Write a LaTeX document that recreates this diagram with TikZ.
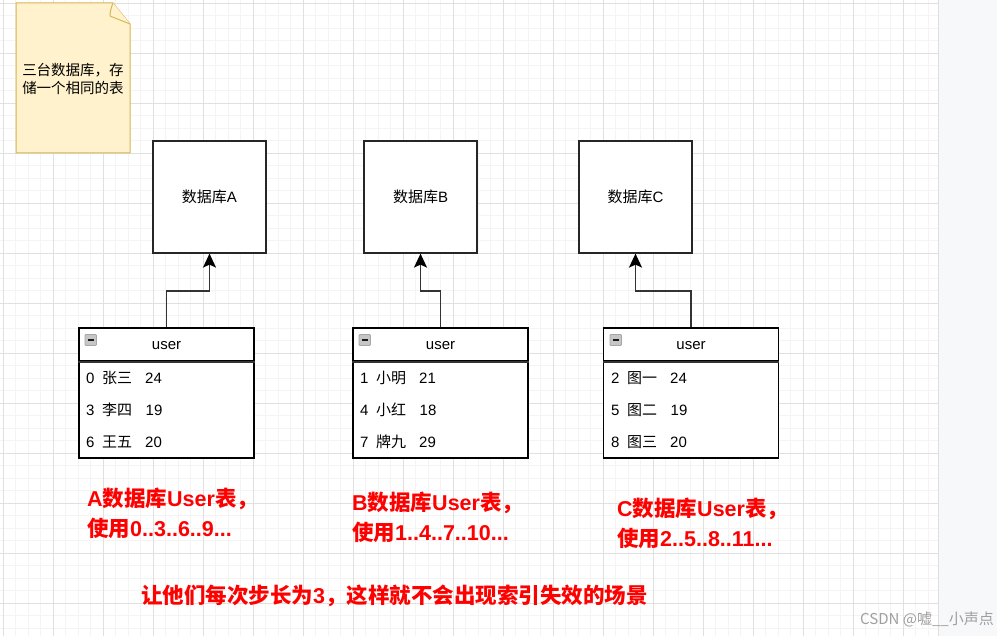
\documentclass[tikz,border=0pt]{standalone}
\usepackage{fontspec}
\setmainfont{Liberation Sans}
\newfontfamily\cjk{Noto Sans CJK SC}
\usetikzlibrary{arrows.meta}
\definecolor{gridminor}{HTML}{F4F4F4}
\definecolor{gridmajor}{HTML}{E0E0E0}
\definecolor{notefill}{HTML}{FFF2CC}
\definecolor{notedraw}{HTML}{D6B656}
\definecolor{outside}{HTML}{F7F8FA}
\definecolor{redtxt}{HTML}{FF0000}
\definecolor{linec}{HTML}{333333}
\newcommand\zh[1]{{\cjk #1}}
\tikzset{
  txt/.style={inner sep=0pt, text height=0.74em, text depth=0pt, font=\fontsize{15}{18}\selectfont},
  dbbox/.style={draw=black!85, line width=1.2pt, fill=white, minimum width=113pt, minimum height=112pt, inner sep=0pt, font=\fontsize{15}{18}\selectfont},
  hdr/.style={draw=black, line width=1.2pt, fill=white, minimum width=175pt, minimum height=33pt, inner sep=0pt},
  tbody/.style={draw=black, line width=1.2pt, fill=white, minimum width=175pt, minimum height=97pt, inner sep=0pt},
  conn/.style={draw=linec, line width=1.4pt, -{Stealth[length=14pt,width=13pt,inset=3pt,fill=black,color=black]}},
  redlbl/.style={inner sep=0pt, anchor=west, text=redtxt, align=left, font=\bfseries\fontsize{21.5}{30}\selectfont},
  minusicon/.style={draw=gray!70, fill=gray!45, line width=0.8pt, rounded corners=1pt},
}
\begin{document}
\begin{tikzpicture}[x=1pt,y=-1pt]
\useasboundingbox (0,0) rectangle (997,636);
\fill[outside] (0,0) rectangle (997,636);
\fill[white] (0,0) rectangle (938,636);
% grid
\foreach \x in {3,15.5,...,936} \draw[gridminor, line width=0.8pt] (\x,0) -- (\x,636);
\foreach \y in {3,15.5,...,636} \draw[gridminor, line width=0.8pt] (0,\y) -- (938,\y);
\foreach \x in {3,53,...,903} \draw[gridmajor, line width=0.8pt] (\x,0) -- (\x,636);
\foreach \y in {3,53,...,603} \draw[gridmajor, line width=0.8pt] (0,\y) -- (938,\y);
\draw[gray!25, line width=1pt] (938.5,0) -- (938.5,636);

% note
\draw[notedraw, fill=notefill, line width=1pt, line join=round] (16,3) -- (113,3) -- (130,24) -- (130,153) -- (16,153) -- cycle;
\draw[notedraw, fill=notefill, line width=1pt, line join=round] (113,3) .. controls (111,8) and (110,12) .. (110,16) -- (130,24);
\node[font=\cjk\fontsize{14.5}{18}\selectfont, align=center, inner sep=0pt] (notetext) at (73,79) {三台数据库，存\\储一个相同的表};

% database boxes
\node[dbbox] (dbA) at (209.5,197) {\zh{数据库}A};
\node[dbbox] (dbB) at (420.5,197) {\zh{数据库}B};
\node[dbbox] (dbC) at (635.5,197) {\zh{数据库}C};

% tables
\node[tbody] (bA) at (166.5,409.5) {};
\node[hdr] (tA) at (166.5,344.5) {};
\node[tbody] (bB) at (440.5,409.5) {};
\node[hdr] (tB) at (440.5,344.5) {};
\node[tbody] (bC) at (691,409.5) {};
\node[hdr] (tC) at (691,344.5) {};
\foreach \t in {tA,tB,tC} {
  \draw[black!80, line width=2pt] (\t.south west) -- (\t.south east);
  \node[txt] at ([yshift=-1.5pt]\t.center) {user};
}
% minus icons
\foreach \xx in {85,359,610} {
  \draw[minusicon] (\xx,334.5) rectangle ++(11.5,11);
  \draw[gray!20!black, line width=1.8pt] (\xx+2.5,340) -- (\xx+9,340);
}

% rows
\foreach \xx/\na/\nb/\nc/\ma/\mb/\mc/\aa/\ab/\ac in
  {79/0/3/6/张三/李四/王五/24/19/20,
   353/1/4/7/小明/小红/牌九/21/18/29,
   604/2/5/8/图一/图二/图三/24/19/20} {
  \node[txt, anchor=west] at (\xx+7,379.5) {\na};
  \node[txt, anchor=west] at (\xx+23,379.5) {\cjk \ma};
  \node[txt, anchor=west] at (\xx+66,379.5) {\aa};
  \node[txt, anchor=west] at (\xx+7,411.5) {\nb};
  \node[txt, anchor=west] at (\xx+23,411.5) {\cjk \mb};
  \node[txt, anchor=west] at (\xx+66.5,411.5) {\ab};
  \node[txt, anchor=west] at (\xx+7,443.5) {\nc};
  \node[txt, anchor=west] at (\xx+23,443.5) {\cjk \mc};
  \node[txt, anchor=west] at (\xx+66,443.5) {\ac};
}

% connectors
\coordinate (midy) at (0,291);
\draw[conn] (tA.north) -- (tA.north |- midy) -| (dbA.south);
\draw[conn] (tB.north) -- (tB.north |- midy) -| (dbB.south);
\draw[conn] (tC.north) -- (tC.north |- midy) -| (dbC.south);

% red labels
\node[redlbl] (lA) at (87,513) {A\zh{数据库}User\zh{表，}\\\zh{使用}0..3..6..9...};
\node[redlbl] (lB) at (352,517) {B\zh{数据库}User\zh{表，}\\\zh{使用}1..4..7..10...};
\node[redlbl] (lC) at (617,523) {C\zh{数据库}User\zh{表，}\\\zh{使用}2..5..8..11...};
\node[redlbl] (lD) at (141,596) {\zh{让他们每次步长为}3\zh{，这样就不会出现索引失效的场景}};

% watermark
\node[inner sep=0pt, anchor=east, text=gray!75, font=\cjk\fontsize{15}{18}\selectfont] (wm) at (994,619) {CSDN @嘘\_\_小声点};
\end{tikzpicture}
\end{document}
